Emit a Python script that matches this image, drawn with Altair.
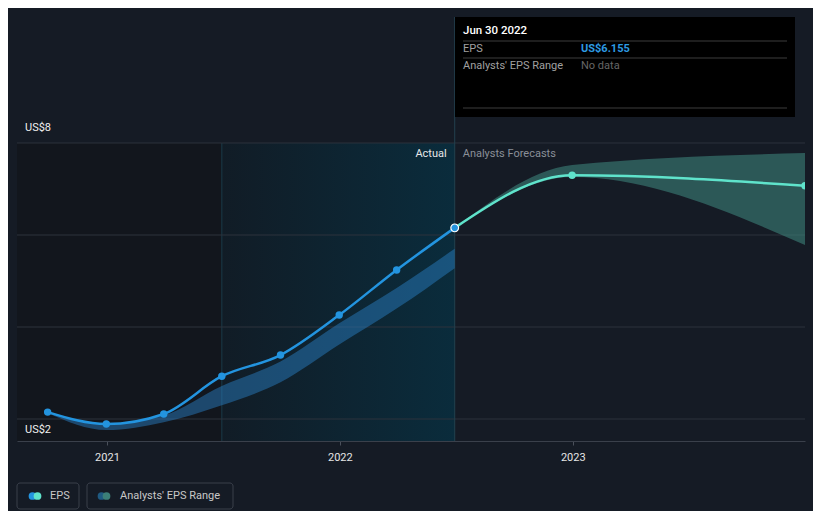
import altair as alt
import pandas as pd

# ---------------- data ----------------
eps_dates = ["2020-09-30", "2020-12-31", "2021-03-31", "2021-06-30",
             "2021-09-30", "2021-12-31", "2022-03-31", "2022-06-30"]
eps_values = [2.15, 1.89, 2.11, 2.93, 3.39, 4.26, 5.24, 6.155]

past_low = [2.13, 1.76, 1.93, 2.30, 2.80, 3.62, 4.40, 5.28]
past_high = [2.15, 1.90, 2.08, 2.72, 3.25, 4.08, 4.85, 5.70]

fc_dates = ["2022-06-30", "2022-12-31", "2023-12-31"]
fc_values = [6.155, 7.30, 7.07]
fc_low = [6.155, 7.26, 5.78]
fc_high = [6.155, 7.52, 7.78]

grid_values = [2, 4, 6, 8]
year_ticks = ["2021-01-01", "2022-01-01", "2023-01-01"]

X_START = "2020-08-13"
X_END = "2023-12-31"
HIGHLIGHT_START = "2021-06-30"
NOW = "2022-06-30"
Y_MIN, Y_MAX = 1.522, 10.739

BG = "#151b25"
BLUE = "#2394df"
AQUA = "#5fe3cb"


def ms(d):
    return int(pd.Timestamp(d, tz="UTC").value // 10**6)


eps_df = pd.DataFrame({"date": [ms(d) for d in eps_dates], "eps": eps_values,
                       "low": past_low, "high": past_high})
fc_df = pd.DataFrame({"date": [ms(d) for d in fc_dates], "eps": fc_values,
                      "low": fc_low, "high": fc_high})
grid_df = pd.DataFrame({"v": grid_values})

xscale = alt.Scale(type="utc", domain=[ms(X_START), ms(X_END)])
yscale = alt.Scale(domain=[Y_MIN, Y_MAX], nice=False, zero=False)

x_axis = alt.Axis(values=[ms(d) for d in year_ticks],
                  format="%Y", title=None, grid=False,
                  domainColor="#3a404b", tickColor="#4a505b", tickSize=4,
                  labelColor="#e6e6e6", labelFontSize=11, labelFont="Roboto",
                  labelPadding=6)


def XT(field):
    return alt.X(field, type="temporal", scale=xscale, axis=x_axis)


def YQ(field):
    return alt.Y(field, type="quantitative", scale=yscale, axis=None)


ONE = pd.DataFrame({"a": [0]})


def px_text(text, x, y, color, size=11, weight="normal", align="left"):
    return alt.Chart(ONE).mark_text(
        text=text, align=align, baseline="middle", color=color, font="Roboto",
        fontSize=size, fontWeight=weight).encode(x=alt.value(x), y=alt.value(y))


def px_rule(x, x2, y, color):
    return alt.Chart(ONE).mark_rule(color=color, strokeWidth=1).encode(
        x=alt.value(x), x2=alt.value(x2), y=alt.value(y))


# ---------------- background regions ----------------
regions = pd.DataFrame({"x": [ms(X_START)], "x2": [ms(HIGHLIGHT_START)], "y": [8.0], "y2": [Y_MIN]})
dark = alt.Chart(regions).mark_rect(color="#12161d").encode(
    x=XT("x"), x2="x2", y=YQ("y"), y2="y2")

hl = pd.DataFrame({"x": [ms(HIGHLIGHT_START)], "x2": [ms(NOW)], "y": [8.0], "y2": [Y_MIN]})
highlight = alt.Chart(hl).mark_rect(
    color=alt.Gradient(gradient="linear", x1=0, x2=1, y1=0, y2=0,
                       stops=[alt.GradientStop(color="#111c26", offset=0),
                              alt.GradientStop(color="#0a2c3c", offset=1)])
).encode(x=XT("x"), x2="x2", y=YQ("y"), y2="y2")

hl_edge = alt.Chart(pd.DataFrame({"x": [ms(HIGHLIGHT_START)], "y": [8.0], "y2": [Y_MIN]})).mark_rule(
    color="#1a3a48", strokeWidth=1).encode(x=XT("x"), y=YQ("y"), y2="y2")

grid = alt.Chart(grid_df).mark_rule(color="#2c323c", strokeWidth=1).encode(
    y=YQ("v"), x=alt.value(0), x2=alt.value(788))

now_rule = alt.Chart(pd.DataFrame({"x": [ms(NOW)]})).mark_rule(
    color="#23414f", strokeWidth=1).encode(x=XT("x"))

# ---------------- bands ----------------
past_band = alt.Chart(eps_df).mark_area(
    color="#2a80c4", opacity=0.48, interpolate="monotone").encode(
    x=XT("date"), y=YQ("low"), y2="high")

fc_band = alt.Chart(fc_df).mark_area(
    color="#3f8a82", opacity=0.55, interpolate="monotone", clip=True).encode(
    x=XT("date"), y=YQ("low"), y2="high")

# ---------------- lines ----------------
past_line = alt.Chart(eps_df).mark_line(
    color=BLUE, strokeWidth=2.5, interpolate="monotone").encode(x=XT("date"), y=YQ("eps"))
past_pts = alt.Chart(eps_df.iloc[:-1]).mark_circle(
    color=BLUE, size=55, opacity=1).encode(x=XT("date"), y=YQ("eps"))

fc_line = alt.Chart(fc_df).mark_line(
    color=AQUA, strokeWidth=2.5, interpolate="monotone", clip=True).encode(
    x=XT("date"), y=YQ("eps"))
fc_pts = alt.Chart(fc_df.iloc[1:]).mark_circle(
    color=AQUA, size=55, opacity=1, clip=True).encode(x=XT("date"), y=YQ("eps"))

now_pt = alt.Chart(eps_df.iloc[-1:]).mark_point(
    filled=True, fill=BLUE, stroke="#ffffff", strokeWidth=1.2, size=60, opacity=1).encode(
    x=XT("date"), y=YQ("eps"))

# ---------------- labels ----------------
lbl8 = alt.Chart(pd.DataFrame({"v": [8]})).mark_text(
    text="US$8", align="left", baseline="middle", dx=8, dy=-15, color="#f0f0f0",
    font="Roboto", fontSize=11).encode(x=alt.value(0), y=YQ("v"))
lbl2 = alt.Chart(pd.DataFrame({"v": [2]})).mark_text(
    text="US$2", align="left", baseline="middle", dx=8, dy=11, color="#f0f0f0",
    font="Roboto", fontSize=11).encode(x=alt.value(0), y=YQ("v"))

actual_lbl = alt.Chart(pd.DataFrame({"x": [ms(NOW)], "v": [8]})).mark_text(
    text="Actual", align="right", baseline="middle", dx=-8, dy=11, color="#e8e8e8",
    font="Roboto", fontSize=11).encode(x=XT("x"), y=YQ("v"))
fc_lbl = alt.Chart(pd.DataFrame({"x": [ms(NOW)], "v": [8]})).mark_text(
    text="Analysts Forecasts", align="left", baseline="middle", dx=8, dy=11,
    color="#8a8f98", font="Roboto", fontSize=11).encode(x=XT("x"), y=YQ("v"))

# ---------------- tooltip box ----------------
tip_box = alt.Chart(ONE).mark_rect(color="#000000").encode(
    x=alt.value(438), x2=alt.value(778), y=alt.value(0), y2=alt.value(100))
tip_layers = [
    tip_box,
    px_rule(446, 770, 24, "#3d3d3d"),
    px_rule(446, 770, 41, "#3d3d3d"),
    px_rule(446, 770, 91, "#3d3d3d"),
    px_text("Jun 30 2022", 446, 14, "#ffffff", 11.5, 500),
    px_text("EPS", 446, 32, "#a0a0a0"),
    px_text("Analysts' EPS Range", 446, 49, "#a0a0a0"),
    px_text("US$6.155", 564, 32, "#2d9be3", 11, "bold"),
    px_text("No data", 564, 49, "#666666"),
]

# ---------------- legend ----------------
def leg_box(x, x2):
    return alt.Chart(ONE).mark_rect(
        fill=BG, stroke="#3a404b", strokeWidth=1, cornerRadius=3).encode(
        x=alt.value(x), x2=alt.value(x2), y=alt.value(466), y2=alt.value(492))


def leg_dot(x, color):
    return alt.Chart(ONE).mark_circle(size=60, opacity=1, color=color).encode(
        x=alt.value(x), y=alt.value(479))


legend_layers = [
    leg_box(0, 62), leg_box(70, 216),
    leg_dot(15.5, BLUE), leg_dot(20.5, AQUA),
    leg_dot(84.5, "#1f5a82"), leg_dot(89.5, "#3c7f78"),
    px_text("EPS", 33, 479, "#c8c8c8"),
    px_text("Analysts' EPS Range", 103, 479, "#c8c8c8"),
]

chart = alt.layer(
    dark, highlight, hl_edge, grid, now_rule, past_band, fc_band,
    past_line, fc_line, past_pts, fc_pts, now_pt,
    lbl8, lbl2, actual_lbl, fc_lbl,
    *tip_layers, *legend_layers
).properties(
    width=788, height=424,
    autosize=alt.AutoSizeParams(type="none"),
    padding={"left": 9, "top": 9, "right": 8, "bottom": 70},
    background=BG
).configure_view(stroke=None)

chart.save("out.html", embed_options={"renderer": "svg", "actions": False})
